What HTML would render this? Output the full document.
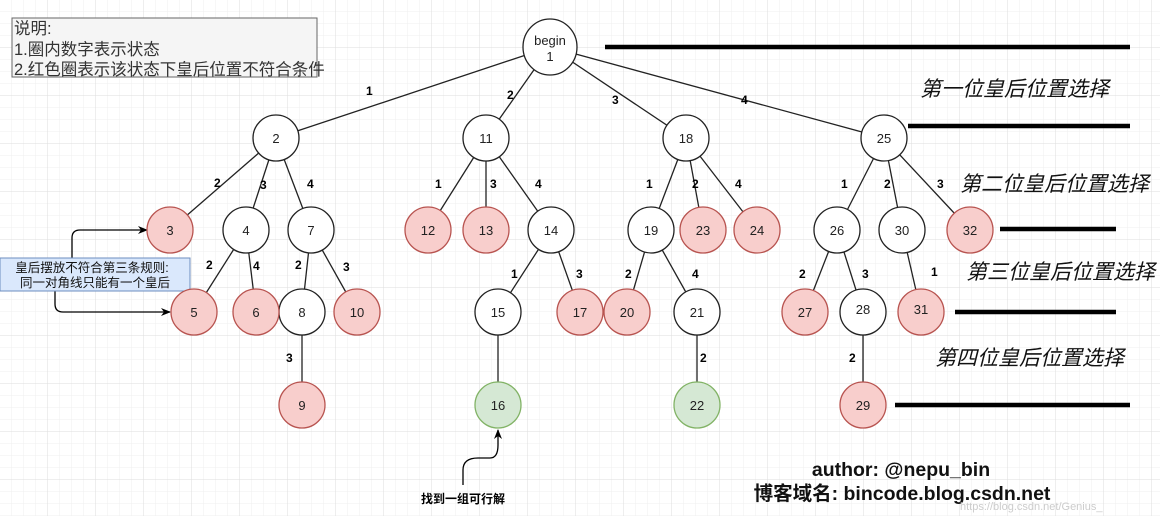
<!DOCTYPE html>
<html><head><meta charset="utf-8"><style>
body{margin:0;width:1160px;height:516px;overflow:hidden;background:#fff;}
svg{display:block}
text{font-family:"Liberation Sans","Noto Sans CJK SC",sans-serif;}
</style></head><body>
<svg width="1160" height="516" viewBox="0 0 1160 516" xmlns="http://www.w3.org/2000/svg">
<defs>
<pattern id="g" width="12" height="12" patternUnits="userSpaceOnUse"><path d="M12 0V12H0" fill="none" stroke="#efefef" stroke-width="1"/></pattern>
<pattern id="G" width="48" height="48" patternUnits="userSpaceOnUse"><rect width="48" height="48" fill="url(#g)"/><path d="M48 0V48H0" fill="none" stroke="#dedede" stroke-width="1"/></pattern>
<marker id="ar" markerWidth="10" markerHeight="10" refX="9" refY="5" orient="auto" markerUnits="userSpaceOnUse"><path d="M0 1L10 5L0 9L3 5z" fill="#000"/></marker>
</defs>
<rect width="1160" height="516" fill="url(#G)"/>
<g stroke="#222" stroke-width="1.3" fill="none">
<line x1="550" y1="47" x2="276" y2="138"/><line x1="550" y1="47" x2="486" y2="138"/><line x1="550" y1="47" x2="686" y2="138"/><line x1="550" y1="47" x2="884" y2="138"/>
<line x1="276" y1="138" x2="170" y2="230"/><line x1="276" y1="138" x2="246" y2="230"/><line x1="276" y1="138" x2="311" y2="230"/>
<line x1="486" y1="138" x2="428" y2="230"/><line x1="486" y1="138" x2="486" y2="230"/><line x1="486" y1="138" x2="551" y2="230"/>
<line x1="686" y1="138" x2="651" y2="230"/><line x1="686" y1="138" x2="703" y2="230"/><line x1="686" y1="138" x2="757" y2="230"/>
<line x1="884" y1="138" x2="837" y2="230"/><line x1="884" y1="138" x2="902" y2="230"/><line x1="884" y1="138" x2="970" y2="230"/>
<line x1="246" y1="230" x2="194" y2="312"/><line x1="246" y1="230" x2="256" y2="312"/>
<line x1="311" y1="230" x2="302" y2="312"/><line x1="311" y1="230" x2="357" y2="312"/>
<line x1="551" y1="230" x2="498" y2="312"/><line x1="551" y1="230" x2="580" y2="312"/>
<line x1="651" y1="230" x2="627" y2="312"/><line x1="651" y1="230" x2="697" y2="312"/>
<line x1="837" y1="230" x2="805" y2="312"/><line x1="837" y1="230" x2="863" y2="312"/>
<line x1="902" y1="230" x2="921" y2="312"/>
<line x1="302" y1="312" x2="302" y2="405"/><line x1="498" y1="312" x2="498" y2="405"/><line x1="697" y1="312" x2="697" y2="405"/><line x1="863" y1="312" x2="863" y2="405"/>
</g>
<g stroke="#000" stroke-width="4.5">
<line x1="605" y1="47" x2="1130" y2="47"/><line x1="908" y1="126" x2="1130" y2="126"/><line x1="1000" y1="229" x2="1116" y2="229"/><line x1="955" y1="312" x2="1116" y2="312"/><line x1="895" y1="405" x2="1130" y2="405"/>
</g>
<g font-size="21" font-style="italic" fill="#111">
<text x="920" y="96">第一位皇后位置选择</text><text x="960" y="191">第二位皇后位置选择</text><text x="966" y="279">第三位皇后位置选择</text><text x="935" y="365">第四位皇后位置选择</text>
</g>
<rect x="12" y="18" width="305" height="59" fill="#f5f5f5" stroke="#666"/>
<g font-size="16.5" fill="#333"><text x="14" y="34">说明:</text><text x="14" y="55">1.圈内数字表示状态</text><text x="14" y="75">2.红色圈表示该状态下皇后位置不符合条件</text></g>
<g stroke="#000" stroke-width="1.3" fill="none">
<path d="M72 258V238Q72 230 80 230H147" marker-end="url(#ar)"/>
<path d="M55 291V304Q55 312 63 312H170" marker-end="url(#ar)"/>
<path d="M463 485V470Q463 458 478 458H490Q498 458 498 445V430" marker-end="url(#ar)"/>
</g>
<rect x="0" y="258" width="190" height="33" fill="#dae8fc" stroke="#6c8ebf"/>
<g font-size="12.5" fill="#111" text-anchor="middle"><text x="92" y="272">皇后摆放不符合第三条规则:</text><text x="95" y="287">同一对角线只能有一个皇后</text></g>
<g font-size="12" font-weight="bold" fill="#000">
<text x="366" y="95">1</text><text x="507" y="99">2</text><text x="612" y="104">3</text><text x="741" y="104">4</text>
<text x="214" y="187">2</text><text x="260" y="189">3</text><text x="307" y="188">4</text>
<text x="435" y="188">1</text><text x="490" y="188">3</text><text x="535" y="188">4</text>
<text x="646" y="188">1</text><text x="692" y="188">2</text><text x="735" y="188">4</text>
<text x="841" y="188">1</text><text x="884" y="188">2</text><text x="937" y="188">3</text>
<text x="206" y="269">2</text><text x="253" y="270">4</text><text x="295" y="269">2</text><text x="343" y="271">3</text>
<text x="511" y="278">1</text><text x="576" y="278">3</text><text x="625" y="278">2</text><text x="692" y="278">4</text>
<text x="799" y="278">2</text><text x="862" y="278">3</text><text x="931" y="276">1</text>
<text x="286" y="362">3</text><text x="700" y="362">2</text><text x="849" y="362">2</text>
</g>
<g stroke-width="1.3">
<ellipse cx="550" cy="47" rx="27" ry="28" fill="#fff" stroke="#222"/>
<g fill="#fff" stroke="#222">
<circle cx="276" cy="138" r="23"/><circle cx="486" cy="138" r="23"/><circle cx="686" cy="138" r="23"/><circle cx="884" cy="138" r="23"/>
<circle cx="246" cy="230" r="23"/><circle cx="311" cy="230" r="23"/><circle cx="551" cy="230" r="23"/><circle cx="651" cy="230" r="23"/><circle cx="837" cy="230" r="23"/><circle cx="902" cy="230" r="23"/>
<circle cx="302" cy="312" r="23"/><circle cx="498" cy="312" r="23"/><circle cx="697" cy="312" r="23"/><circle cx="863" cy="312" r="23"/>
</g>
<g fill="#f8cecc" stroke="#b85450">
<circle cx="170" cy="230" r="23"/><circle cx="428" cy="230" r="23"/><circle cx="486" cy="230" r="23"/><circle cx="703" cy="230" r="23"/><circle cx="757" cy="230" r="23"/><circle cx="970" cy="230" r="23"/>
<circle cx="194" cy="312" r="23"/><circle cx="256" cy="312" r="23"/><circle cx="357" cy="312" r="23"/><circle cx="580" cy="312" r="23"/><circle cx="627" cy="312" r="23"/><circle cx="805" cy="312" r="23"/><circle cx="921" cy="312" r="23"/>
<circle cx="302" cy="405" r="23"/><circle cx="863" cy="405" r="23"/>
</g>
<g fill="#d5e8d4" stroke="#82b366"><circle cx="498" cy="405" r="23"/><circle cx="697" cy="405" r="23"/></g>
</g>
<g font-size="13" fill="#222" text-anchor="middle">
<text x="550" y="45">begin</text><text x="550" y="61">1</text>
<text x="276" y="143">2</text><text x="486" y="143">11</text><text x="686" y="143">18</text><text x="884" y="143">25</text>
<text x="170" y="235">3</text><text x="246" y="235">4</text><text x="311" y="235">7</text><text x="428" y="235">12</text><text x="486" y="235">13</text><text x="551" y="235">14</text><text x="651" y="235">19</text><text x="703" y="235">23</text><text x="757" y="235">24</text><text x="837" y="235">26</text><text x="902" y="235">30</text><text x="970" y="235">32</text>
<text x="194" y="317">5</text><text x="256" y="317">6</text><text x="302" y="317">8</text><text x="357" y="317">10</text><text x="498" y="317">15</text><text x="580" y="317">17</text><text x="627" y="317">20</text><text x="697" y="317">21</text><text x="805" y="317">27</text><text x="863" y="314">28</text><text x="921" y="314">31</text>
<text x="302" y="410">9</text><text x="498" y="410">16</text><text x="697" y="410">22</text><text x="863" y="410">29</text>
</g>
<text x="463" y="503" font-size="12" font-weight="bold" text-anchor="middle">找到一组可行解</text>
<g font-size="19.5" font-weight="bold" fill="#111" text-anchor="middle"><text x="901" y="476">author: @nepu_bin</text><text x="902" y="500">博客域名: bincode.blog.csdn.net</text></g>
<text x="960" y="510" font-size="11" fill="#ccc">https://blog.csdn.net/Genius_</text>
</svg>
</body></html>
